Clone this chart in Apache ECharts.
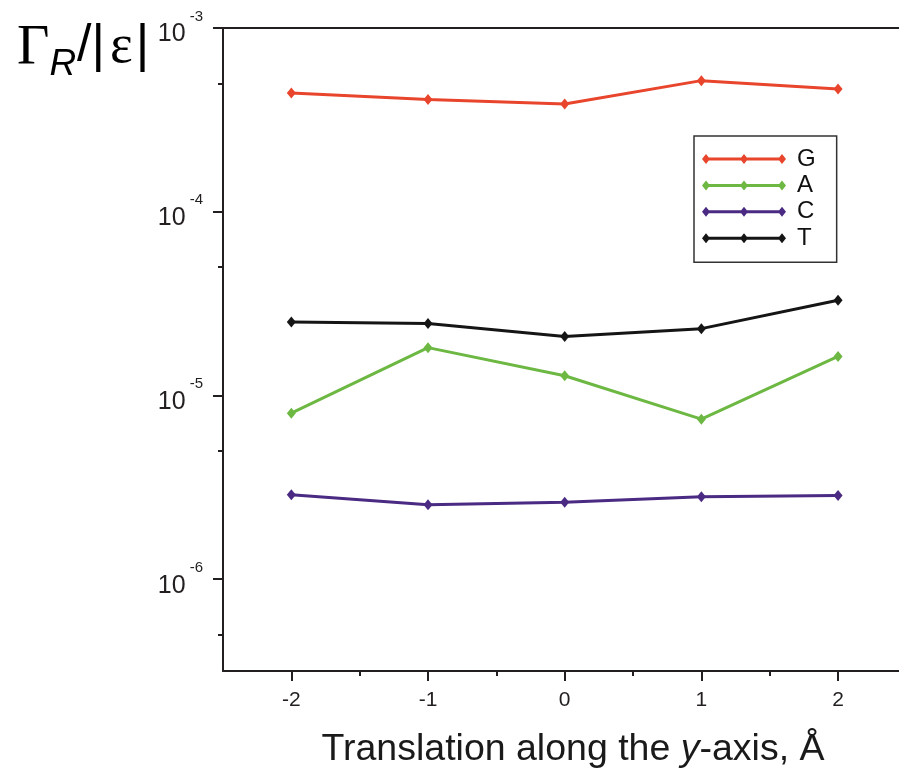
<!DOCTYPE html>
<html>
<head>
<meta charset="utf-8">
<script src="https://cdn.jsdelivr.net/npm/echarts@6/dist/echarts.min.js"></script>
<style>
html,body{margin:0;padding:0;background:#fff;}
#chart{width:899px;height:774px;}
</style>
</head>
<body>
<div id="chart"></div>
<script>
// ---- data ----
const xValues = [-2, -1, 0, 1, 2];
const seriesNames = ['G', 'A', 'C', 'T'];
const G = [4.43e-4, 4.08e-4, 3.86e-4, 5.17e-4, 4.66e-4];
const A = [8.01e-6, 1.82e-5, 1.28e-5, 7.43e-6, 1.63e-5];
const C = [2.88e-6, 2.54e-6, 2.62e-6, 2.81e-6, 2.85e-6];
const T = [2.51e-5, 2.46e-5, 2.09e-5, 2.31e-5, 3.30e-5];
const xTickLabels = [-2, -1, 0, 1, 2];
const xMinorTicks = [-1.5, -0.5, 0.5, 1.5];
const xMin = -2.5, xMax = 2.446;   // visible part of the axis (the reference is cut at the right)
const yDecadeExponents = [-3, -4, -5, -6];
const yMinorTickValues = [5e-4, 5e-5, 5e-6, 5e-7];
const yMin = Math.pow(10, -6.5), yMax = 1e-3;

const colors = {G: '#e8452c', A: '#6cb843', C: '#4a2a82', T: '#151515'};
const axisColor = '#231f20';
const lg = v => Math.log10(v);

const legendIcon = 'path://M0,5L4,0L8,5L4,10Z M38,5L42,0L46,5L42,10Z M76,5L80,0L84,5L80,10Z M4,3.5L80,3.5L80,6.5L4,6.5Z';

function mkSeries(name, vals) {
  return {
    name: name,
    type: 'line',
    xAxisIndex: 0, yAxisIndex: 0,
    data: xValues.map((x, i) => [x, lg(vals[i])]),
    symbol: 'diamond',
    symbolSize: [9, 11],
    lineStyle: {width: 3, color: colors[name]},
    itemStyle: {color: colors[name]},
    emphasis: {disabled: true}
  };
}

const chart = echarts.init(document.getElementById('chart'), null, {renderer: 'canvas'});
chart.setOption({
  animation: false,
  backgroundColor: '#ffffff',
  grid: {left: 223, top: 28, right: 0, height: 644, show: false},
  legend: {
    orient: 'vertical', left: 694, top: 136,
    data: seriesNames.map(n => ({name: n, icon: legendIcon})),
    itemWidth: 84, itemHeight: 10, itemGap: 0.4,
    padding: [10, 21, 11, 8],
    borderColor: '#333', borderWidth: 1.5,
    textStyle: {fontFamily: 'Liberation Sans', fontSize: 24, color: '#111', lineHeight: 26, padding: [0, 0, 0, 6]},
    selectedMode: false
  },
  xAxis: [{
    type: 'value', min: xMin, max: xMax, position: 'bottom',
    axisLine: {show: true, onZero: false, lineStyle: {color: axisColor, width: 2}},
    axisTick: {show: true, length: 10, customValues: xTickLabels, lineStyle: {color: axisColor, width: 2}},
    axisLabel: {customValues: xTickLabels, margin: 19, fontFamily: 'Liberation Sans', fontSize: 21, color: axisColor},
    splitLine: {show: false},
    name: '{n|Translation along the }{i|y}{n|-axis, Å}',
    nameLocation: 'middle', nameGap: 60,
    nameTextStyle: {
      padding: [0, 0, 0, 24],
      rich: {
        n: {fontFamily: 'Liberation Sans', fontSize: 37.5, color: '#1a1a1a'},
        i: {fontFamily: 'Liberation Sans', fontSize: 37.5, fontStyle: 'italic', color: '#1a1a1a'}
      }
    }
  }, {
    type: 'value', min: xMin, max: xMax, position: 'bottom',
    axisLine: {show: false, onZero: false},
    axisTick: {show: true, length: 5, customValues: xMinorTicks, lineStyle: {color: axisColor, width: 2}},
    axisLabel: {show: false},
    splitLine: {show: false}
  }, {
    type: 'value', min: xMin, max: xMax, position: 'top',
    axisLine: {show: true, onZero: false, lineStyle: {color: axisColor, width: 2}},
    axisTick: {show: false},
    axisLabel: {show: false},
    splitLine: {show: false}
  }],
  yAxis: [{
    type: 'value', min: lg(yMin), max: lg(yMax), position: 'left',
    axisLine: {show: true, onZero: false, lineStyle: {color: axisColor, width: 2}},
    axisTick: {show: true, length: 10, customValues: yDecadeExponents, lineStyle: {color: axisColor, width: 2}},
    axisLabel: {
      customValues: yDecadeExponents, margin: 20,
      formatter: v => '{b|10}{s|' + Math.round(v) + '}',
      rich: {
        b: {fontFamily: 'Liberation Sans', fontSize: 25, color: axisColor, lineHeight: 38, verticalAlign: 'bottom'},
        s: {fontFamily: 'Liberation Sans', fontSize: 15, color: axisColor, lineHeight: 15, verticalAlign: 'top', padding: [0, 0, 0, 4]}
      }
    },
    splitLine: {show: false}
  }, {
    type: 'value', min: lg(yMin), max: lg(yMax), position: 'left',
    axisLine: {show: false, onZero: false},
    axisTick: {show: true, length: 5, customValues: yMinorTickValues.map(lg), lineStyle: {color: axisColor, width: 2}},
    axisLabel: {show: false},
    splitLine: {show: false}
  }],
  graphic: [{
    type: 'text', left: 17, top: 21,
    style: {
      text: '{g|Γ}{r|R}{p|/}{p||}{e|ε}{p||}',
      rich: {
        g: {fontFamily: 'Liberation Serif', fontSize: 56, color: '#1a1a1a', lineHeight: 62, verticalAlign: 'top'},
        r: {fontFamily: 'Liberation Sans', fontStyle: 'italic', fontSize: 37, color: '#1a1a1a', lineHeight: 38, verticalAlign: 'bottom', padding: [0, 1, 0, 0]},
        p: {fontFamily: 'Liberation Sans', fontSize: 52, color: '#1a1a1a', lineHeight: 62, verticalAlign: 'top'},
        e: {fontFamily: 'Liberation Serif', fontSize: 54, color: '#1a1a1a', lineHeight: 62, verticalAlign: 'top', padding: [0, 3, 0, 5]}
      }
    }
  }],
  series: [mkSeries('G', G), mkSeries('A', A), mkSeries('C', C), mkSeries('T', T)]
});
</script>
</body>
</html>
